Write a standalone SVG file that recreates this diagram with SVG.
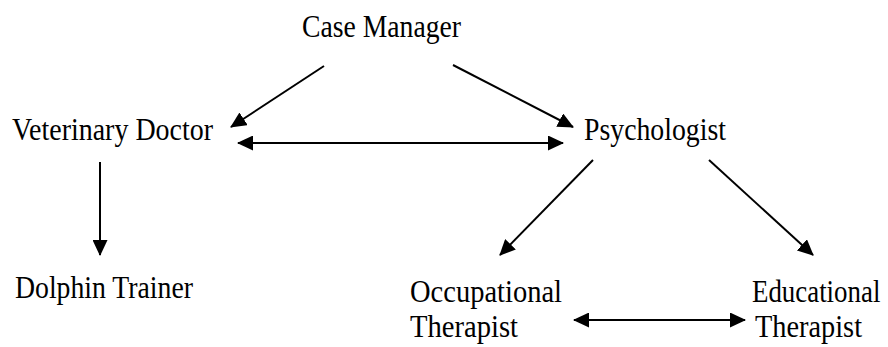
<svg xmlns="http://www.w3.org/2000/svg" width="888" height="347" viewBox="0 0 888 347">
  <style>
    .label { font-family: "Liberation Serif", "Times New Roman", serif; font-size: 32px; fill: #000; }
    .link { stroke: #000; stroke-width: 2; fill: none; }
  </style>
  <defs>
    <marker id="head" markerUnits="userSpaceOnUse" markerWidth="16" markerHeight="15" viewBox="0 0 16 15" refX="15" refY="7.5" orient="auto-start-reverse">
      <path d="M0,0 L16,7.5 L0,15 Z" fill="#000"/>
    </marker>
  </defs>
  <rect width="888" height="347" fill="#fff"/>

  <g id="connectors">
    <line class="link" x1="324" y1="66" x2="231" y2="127" marker-end="url(#head)"/>
    <line class="link" x1="453" y1="65" x2="573" y2="127" marker-end="url(#head)"/>
    <line class="link" x1="238" y1="143" x2="563" y2="143" marker-start="url(#head)" marker-end="url(#head)"/>
    <line class="link" x1="100" y1="162" x2="100" y2="255" marker-end="url(#head)"/>
    <line class="link" x1="593" y1="160" x2="500" y2="255" marker-end="url(#head)"/>
    <line class="link" x1="709" y1="160" x2="813" y2="255" marker-end="url(#head)"/>
    <line class="link" x1="574" y1="320" x2="745" y2="320" marker-start="url(#head)" marker-end="url(#head)"/>
  </g>

  <g id="case-manager">
    <text class="label" x="302" y="37" textLength="159" lengthAdjust="spacingAndGlyphs">Case Manager</text>
  </g>
  <g id="veterinary-doctor">
    <text class="label" x="12" y="140" textLength="201" lengthAdjust="spacingAndGlyphs">Veterinary Doctor</text>
  </g>
  <g id="psychologist">
    <text class="label" x="584" y="140" textLength="142" lengthAdjust="spacingAndGlyphs">Psychologist</text>
  </g>
  <g id="dolphin-trainer">
    <text class="label" x="15" y="298" textLength="178" lengthAdjust="spacingAndGlyphs">Dolphin Trainer</text>
  </g>
  <g id="occupational-therapist">
    <text class="label" x="410" y="302" textLength="152" lengthAdjust="spacingAndGlyphs">Occupational</text>
    <text class="label" x="410" y="337" textLength="108" lengthAdjust="spacingAndGlyphs">Therapist</text>
  </g>
  <g id="educational-therapist">
    <text class="label" transform="translate(752,302) scale(0.84,1)">Educational</text>
    <text class="label" x="755" y="337" textLength="107" lengthAdjust="spacingAndGlyphs">Therapist</text>
  </g>
</svg>
